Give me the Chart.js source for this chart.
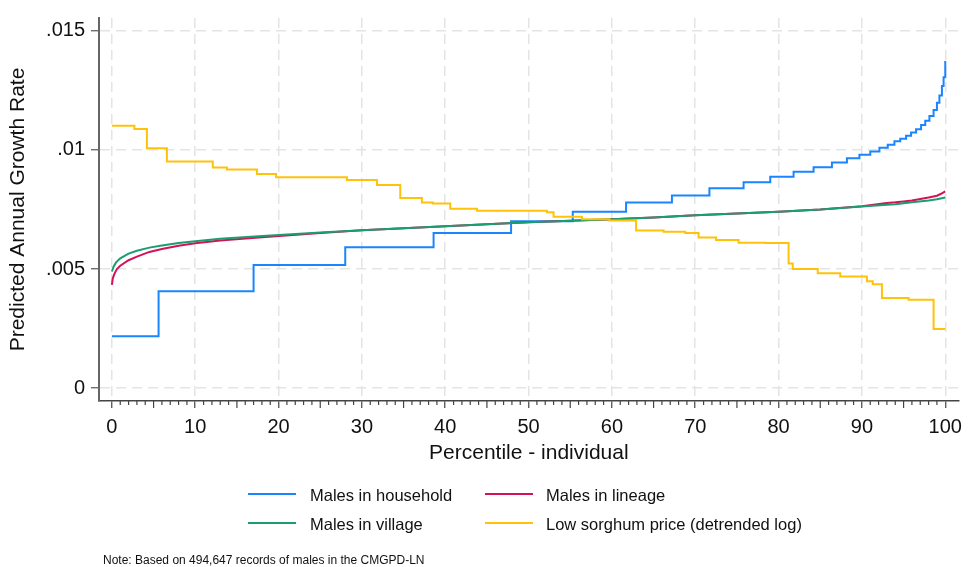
<!DOCTYPE html>
<html>
<head>
<meta charset="utf-8">
<script src="https://cdn.jsdelivr.net/npm/chart.js@4/dist/chart.umd.min.js"></script>
<style>
  html, body { margin: 0; padding: 0; background: #fff; }
  #wrap { position: relative; width: 969px; height: 567px; font-family: "Liberation Sans", Arial, sans-serif; color: #111; }
  #c { position: absolute; left: 0; top: 0; }
  .lg-line { position: absolute; height: 2px; width: 48px; }
  .lg-text { position: absolute; font-size: 16.5px; line-height: 20px; white-space: nowrap; }
  #note { position: absolute; left: 103px; top: 552px; font-size: 12px; line-height: 16px; white-space: nowrap; }
</style>
</head>
<body>
<div id="wrap">
  <canvas id="c" width="969" height="567"></canvas>
  <div class="lg-line" style="left:248px;top:493px;background:#1a85ff"></div>
  <div class="lg-text" style="left:310px;top:485px">Males in household</div>
  <div class="lg-line" style="left:485px;top:493px;background:#d41159"></div>
  <div class="lg-text" style="left:546px;top:485px">Males in lineage</div>
  <div class="lg-line" style="left:248px;top:522px;background:#1a9e6e"></div>
  <div class="lg-text" style="left:310px;top:514px">Males in village</div>
  <div class="lg-line" style="left:485px;top:522px;background:#ffc20a"></div>
  <div class="lg-text" style="left:546px;top:514px">Low sorghum price (detrended log)</div>
  <div id="note">Note: Based on 494,647 records of males in the CMGPD-LN</div>
</div>
<script>
// ---- Data ----
const householdX = [0, 5.6, 17.0, 28.0, 38.6, 47.9, 55.3, 61.7, 67.2, 71.7, 75.8, 79.0, 81.8, 84.2, 86.4, 88.2, 89.7, 91.0, 92.1, 93.1, 93.9, 94.6, 95.3, 95.9, 96.5, 97.1, 97.6, 98.1, 98.6, 99.0, 99.3, 99.6, 99.8, 100];
const householdY = [0.00218, 0.00407, 0.00517, 0.00592, 0.00651, 0.00701, 0.00741, 0.00779, 0.00809, 0.00839, 0.00864, 0.00887, 0.00908, 0.00927, 0.00947, 0.00965, 0.0098, 0.00993, 0.01009, 0.01022, 0.01036, 0.01047, 0.0106, 0.01073, 0.01087, 0.01105, 0.01122, 0.01142, 0.01168, 0.01198, 0.01228, 0.01268, 0.01305, 0.01373];

const lineageX = [0, 0.1, 0.3, 0.6, 1, 2, 3, 4.5, 6, 8, 10, 13, 17.6, 25, 30, 40, 50, 60, 65, 70, 80, 85, 90, 93, 94, 95, 96, 97, 98, 99, 99.5, 100];
const lineageY = [0.00434, 0.0046, 0.0048, 0.005, 0.00514, 0.00537, 0.00552, 0.00572, 0.00584, 0.00598, 0.00608, 0.0062, 0.00633, 0.00651, 0.00663, 0.0068, 0.00696, 0.00709, 0.00716, 0.00726, 0.00741, 0.0075, 0.00764, 0.00777, 0.0078, 0.00784, 0.00788, 0.00794, 0.008, 0.00808, 0.00816, 0.00826];

const villageX = [0, 0.2, 0.5, 1, 2, 3, 4.5, 6, 8, 10, 13, 17.6, 25, 30, 40, 50, 60, 65, 70, 80, 85, 90, 93, 94, 96, 98, 99, 100];
const villageY = [0.0049, 0.0051, 0.00528, 0.00545, 0.00565, 0.00577, 0.0059, 0.00599, 0.00609, 0.00617, 0.00627, 0.00638, 0.00654, 0.00663, 0.0068, 0.00696, 0.00709, 0.00716, 0.00726, 0.00741, 0.0075, 0.00763, 0.0077, 0.00772, 0.0078, 0.00788, 0.00793, 0.008];

const sorghumX = [0, 2.7, 4.2, 6.6, 12.1, 13.8, 17.4, 19.7, 28.2, 31.8, 34.6, 37.2, 38.5, 40.6, 43.8, 52.2, 53.0, 56.4, 59.7, 62.9, 66.2, 68.8, 70.4, 72.5, 75.2, 78.4, 81.2, 81.7, 84.7, 87.4, 90.6, 91.3, 92.4, 95.6, 98.6, 100];
const sorghumY = [0.01101, 0.01088, 0.01007, 0.00951, 0.00926, 0.00918, 0.00899, 0.00885, 0.00874, 0.00853, 0.00798, 0.00779, 0.00775, 0.00753, 0.00745, 0.00738, 0.0072, 0.00709, 0.00704, 0.00662, 0.00657, 0.00651, 0.00633, 0.00622, 0.0061, 0.00609, 0.00523, 0.005, 0.00482, 0.00469, 0.00449, 0.00436, 0.00379, 0.00371, 0.00249, 0.00249];

const xTickValues = [0, 10, 20, 30, 40, 50, 60, 70, 80, 90, 100];
const yTickValues = [0, 0.005, 0.01, 0.015];
const yTickLabels = ["0", ".005", ".01", ".015"];

const seriesNames = ["Males in household", "Males in lineage", "Males in village", "Low sorghum price (detrended log)"];
const seriesColors = ["#1a85ff", "#d41159", "#1a9e6e", "#ffc20a"];

// ---- Build ----
const pts = (xs, ys) => xs.map((x, i) => ({ x: x, y: ys[i] }));
const FONT = "'Liberation Sans', Arial, sans-serif";

const minorTicks = {
  id: 'minorTicks',
  afterDraw(chart) {
    const xs = chart.scales.x, ctx = chart.ctx, y0 = chart.chartArea.bottom;
    ctx.save();
    ctx.strokeStyle = '#444';
    ctx.lineWidth = 1.2;
    for (let v = 0; v <= 100; v++) {
      if (v % 10 === 0) continue;
      const px = xs.getPixelForValue(v);
      const len = (v % 5 === 0) ? 7 : 4;
      ctx.beginPath();
      ctx.moveTo(px, y0);
      ctx.lineTo(px, y0 + len);
      ctx.stroke();
    }
    ctx.restore();
  }
};

const ds = (i, xs, ys, stepped, order) => ({
  label: seriesNames[i],
  data: pts(xs, ys),
  borderColor: seriesColors[i],
  backgroundColor: seriesColors[i],
  borderWidth: 2,
  pointRadius: 0,
  fill: false,
  tension: 0,
  stepped: stepped,
  order: order
});

new Chart(document.getElementById('c'), {
  type: 'line',
  data: {
    datasets: [
      ds(0, householdX, householdY, 'before', 4),
      ds(1, lineageX, lineageY, false, 3),
      ds(2, villageX, villageY, false, 2),
      ds(3, sorghumX, sorghumY, 'before', 1)
    ]
  },
  options: {
    responsive: false,
    animation: false,
    devicePixelRatio: 1,
    layout: { padding: { left: 0, right: 4, top: 11, bottom: 100 } },
    plugins: { legend: { display: false }, tooltip: { enabled: false } },
    scales: {
      x: {
        type: 'linear',
        min: -1.549,
        max: 101.61,
        afterFit: s => { s.height = 66; },
        afterBuildTicks: s => { s.ticks = xTickValues.map(v => ({ value: v })); },
        ticks: { font: { family: FONT, size: 20 }, color: '#111', padding: 7, maxRotation: 0, autoSkip: false, callback: v => String(v) },
        grid: { color: '#e4e4e4', lineWidth: 1.5, tickLength: 7, tickColor: '#444', tickWidth: 1.2, tickBorderDash: [] },
        border: { display: true, color: '#444', width: 1.5, dash: [10, 6] },
        title: { display: true, text: 'Percentile - individual', font: { family: FONT, size: 21 }, color: '#111', padding: { top: 0, bottom: 1 } }
      },
      y: {
        type: 'linear',
        min: -0.000536,
        max: 0.015536,
        afterFit: s => { s.width = 99; },
        afterBuildTicks: s => { s.ticks = yTickValues.map(v => ({ value: v })); },
        ticks: { font: { family: FONT, size: 20 }, color: '#111', padding: 6, autoSkip: false,
                 callback: (v) => { const i = yTickValues.findIndex(t => Math.abs(t - v) < 1e-9); return i >= 0 ? yTickLabels[i] : ''; } },
        grid: { color: '#e4e4e4', lineWidth: 1.5, tickLength: 8, tickColor: '#555', tickWidth: 1.2, tickBorderDash: [] },
        border: { display: true, color: '#666', width: 2, dash: [10, 6] },
        title: { display: true, text: 'Predicted Annual Growth Rate', font: { family: FONT, size: 21 }, color: '#111', padding: { top: 6, bottom: 0 } }
      }
    }
  },
  plugins: [minorTicks]
});
</script>
</body>
</html>
